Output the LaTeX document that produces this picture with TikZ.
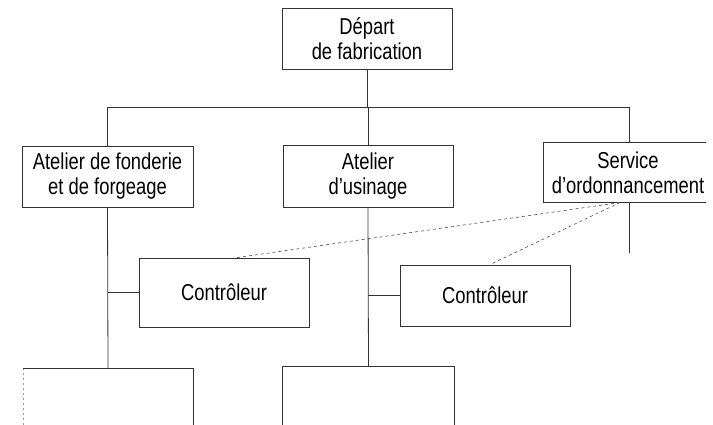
\documentclass[tikz,border=0pt]{standalone}
\usepackage{fontspec}
\setmainfont{Liberation Sans}[FakeStretch=0.8]
\usetikzlibrary{calc}
\begin{document}
\begin{tikzpicture}[x=1pt,y=-1pt,
  every node/.style={font=\fontsize{23}{25}\selectfont, align=center, inner sep=0pt},
  unitbox/.style={draw=black!80, line width=0.8pt, rectangle},
  openbox/.style={rectangle, draw=none},
  link/.style={draw=black!80, line width=0.8pt},
  dottedlink/.style={draw=black!70, line width=0.6pt, dash pattern=on 3pt off 3pt}]
\useasboundingbox (0,0) rectangle (713,425);

% units
\node[unitbox, minimum width=170pt, minimum height=61pt] (depart) at (367,38.5) {Départ\\de fabrication};
\node[unitbox, minimum width=171pt, minimum height=61pt] (fonderie) at (107.5,176.5) {Atelier de fonderie\\et de forgeage};
\node[unitbox, minimum width=170pt, minimum height=62pt] (usinage) at (368,176) {Atelier\\d’usinage};
\node[openbox, minimum width=168pt, minimum height=59pt] (ordo) at (628,172.5) {Service\\d’ordonnancement};
\node[unitbox, minimum width=170pt, minimum height=69pt] (ctrlA) at (224,292.5) {Contrôleur};
\node[unitbox, minimum width=170pt, minimum height=61pt] (ctrlB) at (485,295.5) {Contrôleur};
\node[openbox, minimum width=170pt, minimum height=56pt] (lowA) at (108,397) {};
\node[openbox, minimum width=171pt, minimum height=58pt] (lowB) at (368.5,396) {};

% borders left open at the sheet edge
\draw[link] ([xshift=-6pt]ordo.north east) -- (ordo.north west) -- (ordo.south west) -- ([xshift=-6pt]ordo.south east);
\draw[black!40, line width=0.6pt, dash pattern=on 2pt off 3pt] (lowA.south west) -- (lowA.north west);
\draw[link] (lowA.north west) -- (lowA.north east) -- (lowA.south east);
\draw[link] (lowB.south west) -- (lowB.north west) -- (lowB.north east) -- (lowB.south east);

% hierarchy
\coordinate (busL) at (107,107);
\coordinate (busR) at (629,107);
\coordinate (tail) at (629,253);
\draw[link] (busL) -- (busR);
\draw[link] (depart.south) -- (depart.south |- busL);
\draw[link] (fonderie.north) -- (fonderie.north |- busL);
\draw[link] (usinage.north) -- (usinage.north |- busL);
\draw[link] (busR) -- (busR |- ordo.north);
\draw[link] (busR |- ordo.south) -- (tail);
\draw[link] (fonderie.south) -- (lowA.north);
\draw[link] (usinage.south) -- (lowB.north);
\draw[link] (ctrlA.west) -- (ctrlA.west -| fonderie.south);
\draw[link] (ctrlB.west) -- (ctrlB.west -| usinage.south);

% functional links
\coordinate (src) at (620,202.5);
\draw[dottedlink] (src) -- ([xshift=13pt]ctrlA.north);
\draw[dottedlink] (src) -- ([xshift=5pt]ctrlB.north);
\end{tikzpicture}
\end{document}
